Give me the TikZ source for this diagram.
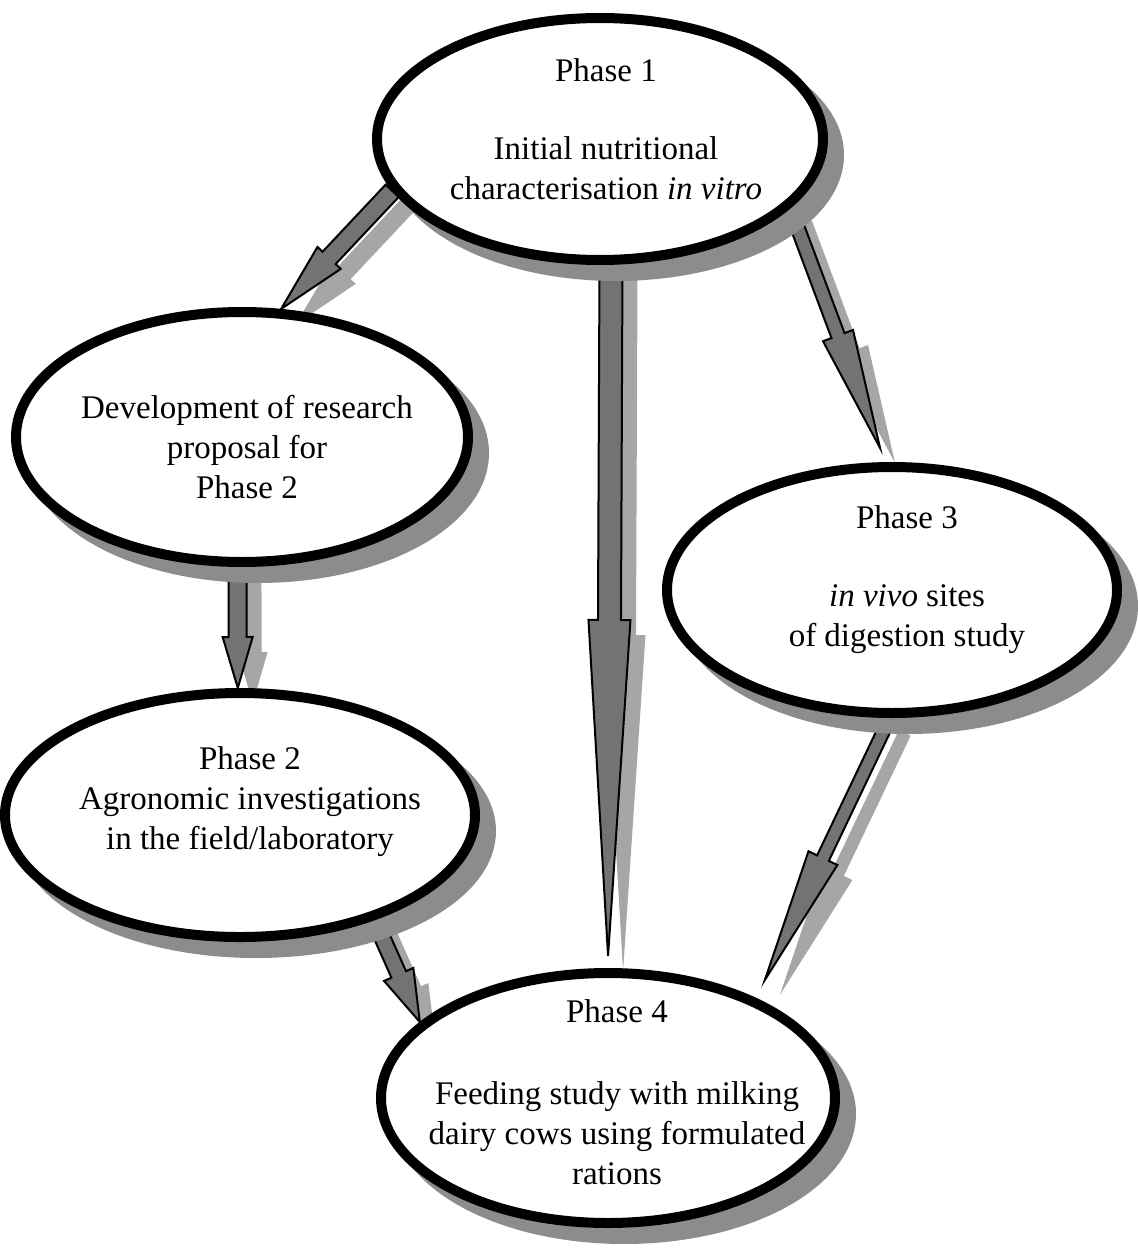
\documentclass[tikz,border=0pt]{standalone}
\usepackage{fontspec}
\setmainfont{Liberation Serif}
\usetikzlibrary{calc,positioning,shapes.geometric,backgrounds}
\tikzset{
    phasenode/.style={ % requires library shapes.geometric
        draw,
        ellipse,
        line width=5pt,
        fill=white,
        inner sep=0pt,
        preaction={fill=black!45, draw=black!45, transform canvas={xshift=8pt, yshift=-8pt}}
    },
    phasetext/.style={
        align=center,
        font=\fontsize{16.5}{20}\selectfont
    },
    arrowbody/.style={fill=black!55, draw=black, line width=1pt},
    arrowshade/.style={fill=black!35, transform canvas={xshift=7.5pt, yshift=-7.5pt}}
}
% #1 style, #2 half shaft, #3 half head
\newcommand{\fatshape}[3]{
    \path[#1] ($(fa-s)!#2!90:(fa-e)$) -- ($(fa-h)!#2!90:(fa-e)$) -- ($(fa-h)!#3!90:(fa-e)$) -- (fa-e)
        -- ($(fa-h)!#3!-90:(fa-e)$) -- ($(fa-h)!#2!-90:(fa-e)$) -- ($(fa-s)!#2!-90:(fa-e)$) -- cycle;
}
% #1 from, #2 to, #3 half shaft, #4 half head, #5 head length, #6 gap at tip
\newcommand{\fatarrow}[6]{
    \coordinate (fa-s) at (#1);
    \coordinate (fa-e) at ($(#2)!#6!(#1)$);
    \coordinate (fa-h) at ($(fa-e)!#5!(fa-s)$);
    \fatshape{arrowshade}{#3}{#4}
    \fatshape{arrowbody}{#3}{#4}
}

\begin{document}
\begin{tikzpicture}[x=0.5pt, y=-0.5pt]
    \useasboundingbox (0,0) rectangle (1138,1252);

    \node[phasenode, minimum width=223pt, minimum height=121pt] (p1) at (600,139) {};
    \node[phasenode, minimum width=226pt, minimum height=125pt] (dev) at (242,437) {};
    \node[phasenode, minimum width=235pt, minimum height=122pt] (p2) at (240,815) {};
    \node[phasenode, minimum width=225pt, minimum height=123pt] (p3) at (892,590) {};
    \node[phasenode, minimum width=227pt, minimum height=125pt] (p4) at (608,1098) {};

    \node[phasetext] (t1) at (606,129) {Phase 1\\[19pt] Initial nutritional\\ characterisation \textit{in vitro}};
    \node[phasetext] (tdev) at (247,447) {Development of research\\ proposal for\\ Phase 2};
    \node[phasetext] (t2) at (250,802) {Phase 2\\ Agronomic investigations\\ in the field/laboratory};
    \node[phasetext] (t3) at (907,580) {Phase 3\\[19pt] \textit{in vivo} sites\\ of digestion study};
    \node[phasetext] (t4) at (617,1092) {Phase 4\\[21pt] Feeding study with milking\\ dairy cows using formulated\\ rations};

    \begin{pgfonlayer}{background}
        \fatarrow{p1.194}{dev.73}{4.5pt}{8pt}{35pt}{0pt}
        \fatarrow{p1.-85}{p4.90}{5.75pt}{10.5pt}{168pt}{6pt}
        \fatarrow{p1.-20}{p3.93}{3.5pt}{8pt}{60pt}{7.5pt}
        \fatarrow{dev.268}{p2.91}{4.5pt}{7.5pt}{25.5pt}{0pt}
        \fatarrow{p2.-38}{p4.158}{4pt}{8pt}{26pt}{0pt}
        \fatarrow{p3.269}{p4.34}{3.25pt}{8pt}{67.5pt}{10pt}
    \end{pgfonlayer}
\end{tikzpicture}
\end{document}
